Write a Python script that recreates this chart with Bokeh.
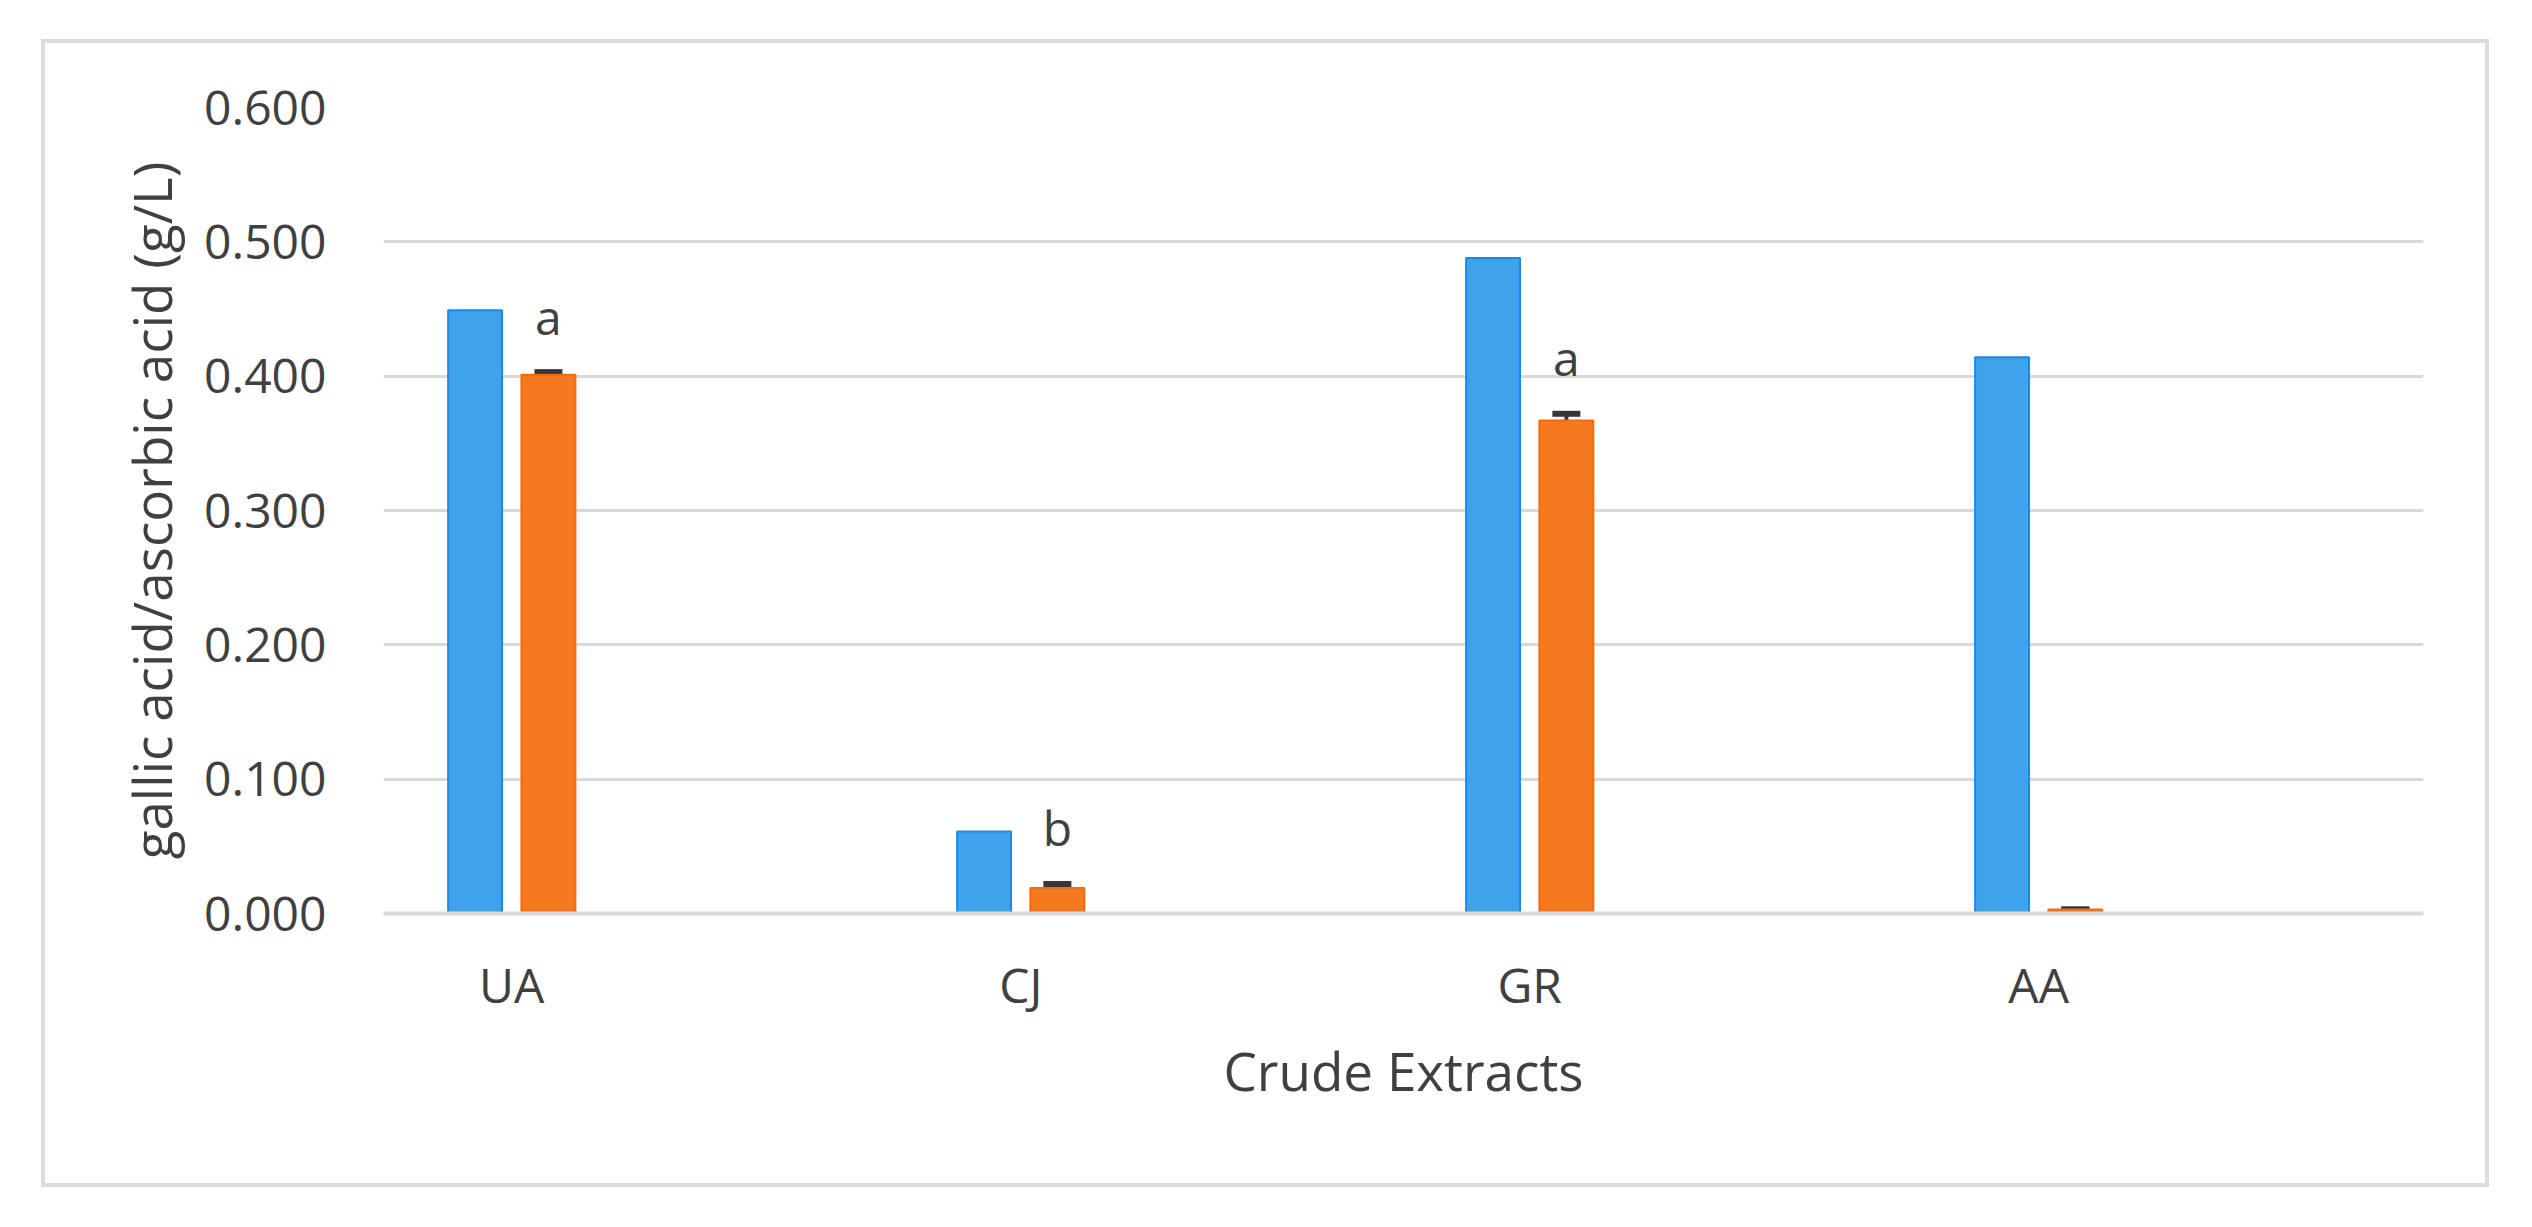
from bokeh.plotting import figure
from bokeh.models import (ColumnDataSource, FixedTicker, Whisker, TeeHead,
                          PrintfTickFormatter, Range1d, InlineStyleSheet)
from bokeh.core.properties import value
from bokeh.embed import file_html
from bokeh.resources import INLINE

# ---- data ----
categories = ["UA", "CJ", "GR", "AA"]
series_blue = [0.449, 0.061, 0.488, 0.414]
series_orange = [0.401, 0.019, 0.367, 0.003]
orange_err = [0.002, 0.003, 0.005, 0.0]
letters = ["a", "b", "a", ""]
y_ticks = [0.0, 0.1, 0.2, 0.3, 0.4, 0.5, 0.6]
x_title = "Crude Extracts"
y_title = "gallic acid/ascorbic acid (g/L)"

# ---- style ----
FONT = "Open Sans"
TXT = "#404040"
GRID = "#d9d9d9"
BLUE_FILL, BLUE_LINE = "#3ea3eb", "#1e88e5"
ORG_FILL, ORG_LINE = "#f7791f", "#f06a10"
OFF = 0.072
BW = 0.106

idx = list(range(len(categories)))
src = ColumnDataSource(dict(
    xb=[i - OFF for i in idx],
    xo=[i + OFF for i in idx],
    blue=series_blue,
    orange=series_orange,
    lo=[v - e for v, e in zip(series_orange, orange_err)],
    hi=[v + e for v, e in zip(series_orange, orange_err)],
    letter=letters,
))

p = figure(width=2440, height=1140, output_backend="svg", toolbar_location=None,
           x_range=Range1d(-0.252, 3.756), y_range=Range1d(0, 0.6),
           min_border_left=338, min_border_right=62, min_border_top=64,
           min_border_bottom=270)
p.margin = (43, 0, 0, 45)
p.stylesheets = [InlineStyleSheet(css=":host { outline: 4px solid #dcdcdc; }")]
p.outline_line_color = None
p.background_fill_color = "white"
p.border_fill_color = "white"

p.vbar(x="xb", top="blue", width=BW, source=src, fill_color=BLUE_FILL,
       line_color=BLUE_LINE, line_width=2)
p.vbar(x="xo", top="orange", width=BW, source=src, fill_color=ORG_FILL,
       line_color=ORG_LINE, line_width=2)

head_u = TeeHead(size=28, line_width=6, line_color="#363636")
head_l = TeeHead(size=28, line_width=6, line_color="#363636")
p.add_layout(Whisker(base="xo", lower="lo", upper="hi", source=src,
                     upper_head=head_u, lower_head=head_l,
                     line_color="#363636", line_width=4))

p.text(x="xo", y="hi", text="letter", source=src, text_align="center",
       text_baseline="alphabetic", y_offset=-56, text_font=value(FONT),
       text_font_size="48px", text_color=TXT)

# y axis
p.yaxis.ticker = FixedTicker(ticks=y_ticks)
p.yaxis.formatter = PrintfTickFormatter(format="%.3f")
p.yaxis.axis_line_color = None
p.yaxis.major_tick_line_color = None
p.yaxis.minor_tick_line_color = None
p.yaxis.major_label_text_font = FONT
p.yaxis.major_label_text_font_size = "48px"
p.yaxis.major_label_text_color = TXT
p.yaxis.major_label_standoff = 51
p.yaxis.axis_label = y_title
p.yaxis.axis_label_text_font = FONT
p.yaxis.axis_label_text_font_size = "53px"
p.yaxis.axis_label_text_font_style = "normal"
p.yaxis.axis_label_text_color = TXT
p.yaxis.axis_label_standoff = 13

# x axis
p.xaxis.ticker = FixedTicker(ticks=idx)
p.xaxis.major_label_overrides = {i: c for i, c in zip(idx, categories)}
p.xaxis.axis_line_color = GRID
p.xaxis.axis_line_width = 4
p.xaxis.major_tick_line_color = None
p.xaxis.minor_tick_line_color = None
p.xaxis.major_label_text_font = FONT
p.xaxis.major_label_text_font_size = "48px"
p.xaxis.major_label_text_color = TXT
p.xaxis.major_label_standoff = 32
p.xaxis.axis_label = x_title
p.xaxis.axis_label_text_font = FONT
p.xaxis.axis_label_text_font_size = "53px"
p.xaxis.axis_label_text_font_style = "normal"
p.xaxis.axis_label_text_color = TXT
p.xaxis.axis_label_standoff = 14

p.xgrid.grid_line_color = None
p.ygrid.grid_line_color = GRID
p.ygrid.grid_line_width = 3

open("out.html", "w").write(file_html(p, INLINE))
